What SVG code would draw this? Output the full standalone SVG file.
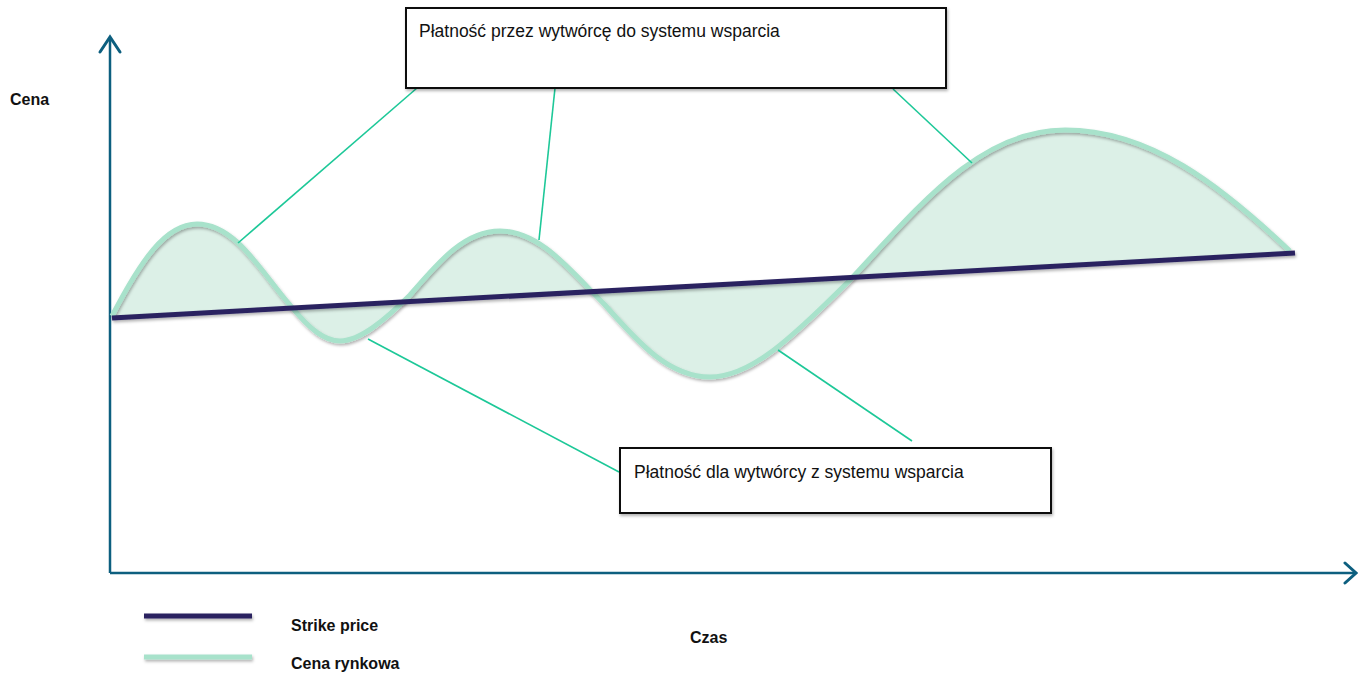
<svg xmlns="http://www.w3.org/2000/svg" width="1358" height="674" viewBox="0 0 1358 674">
<style>
.axis{stroke:#0d5f7f;stroke-width:2.5;fill:none}
.head{stroke:#0d5f7f;stroke-width:3;fill:none;stroke-linecap:round;stroke-linejoin:miter}
.lead{stroke:#1dc898;stroke-width:1.6;fill:none}
.box{fill:#fff;stroke:#111;stroke-width:2}
.lbl{font-family:"Liberation Sans",Arial,sans-serif;font-size:17.5px;fill:#111}
.bold{font-family:"Liberation Sans",Arial,sans-serif;font-size:16px;font-weight:bold;fill:#111}
.strike{stroke:#2b2461;stroke-width:5;fill:none;stroke-linecap:butt}
.market{stroke:#a8e2cb;stroke-width:5;fill:none}
</style>
<defs>
<filter id="sh" filterUnits="userSpaceOnUse" x="0" y="0" width="1358" height="674">
<feDropShadow dx="1" dy="2" stdDeviation="1.5" flood-color="#000" flood-opacity="0.3"/>
</filter>
</defs>
<rect width="1358" height="674" fill="#fff"/>
<g id="axes">
<line class="axis" x1="110" y1="38" x2="110" y2="573"/>
<polyline class="head" points="100,52 110,37 120,52"/>
<line class="axis" x1="110" y1="573" x2="1355" y2="573"/>
<polyline class="head" points="1345,563 1356,573 1345,583"/>
</g>
<g id="chart">
<path d="M112,316 C140,262 165,224 197,224 C235,224 260,270 290,305 C310,330 325,341 340,341 C360,341 385,320 410,295 C440,260 465,231 500,231 C540,231 570,270 605,305 C640,345 670,377 710,377 C750,377 790,340 850,280 C920,205 980,130 1065,130 C1150,130 1220,185 1290,251 L1295,253 L112,318 Z" fill="#dcf0e7"/>
<path class="market" filter="url(#sh)" d="M112,316 C140,262 165,224 197,224 C235,224 260,270 290,305 C310,330 325,341 340,341 C360,341 385,320 410,295 C440,260 465,231 500,231 C540,231 570,270 605,305 C640,345 670,377 710,377 C750,377 790,340 850,280 C920,205 980,130 1065,130 C1150,130 1220,185 1290,251"/>
<line class="strike" filter="url(#sh)" x1="112" y1="318" x2="1295" y2="253"/>
</g>
<g id="connectors">
<line class="lead" x1="417" y1="88" x2="238" y2="243"/>
<line class="lead" x1="555" y1="88" x2="539" y2="240"/>
<line class="lead" x1="893" y1="89" x2="972" y2="163"/>
<line class="lead" x1="368" y1="339" x2="619" y2="472"/>
<line class="lead" x1="778" y1="350" x2="912" y2="441"/>
</g>
<g id="box-top">
<rect class="box" filter="url(#sh)" x="406" y="8" width="540" height="80"/>
<text class="lbl" x="419" y="37">Płatność przez wytwórcę do systemu wsparcia</text>
</g>
<g id="box-bottom">
<rect class="box" filter="url(#sh)" x="620" y="448" width="431" height="65"/>
<text class="lbl" x="634" y="478">Płatność dla wytwórcy z systemu wsparcia</text>
</g>
<g id="labels">
<text class="bold" x="10" y="105">Cena</text>
<text class="bold" x="690" y="643">Czas</text>
</g>
<g id="legend">
<line class="strike" filter="url(#sh)" x1="144" y1="616" x2="252" y2="616"/>
<line class="market" filter="url(#sh)" x1="144" y1="657" x2="252" y2="657"/>
<text class="bold" x="291" y="631">Strike price</text>
<text class="bold" x="291" y="669">Cena rynkowa</text>
</g>
</svg>
